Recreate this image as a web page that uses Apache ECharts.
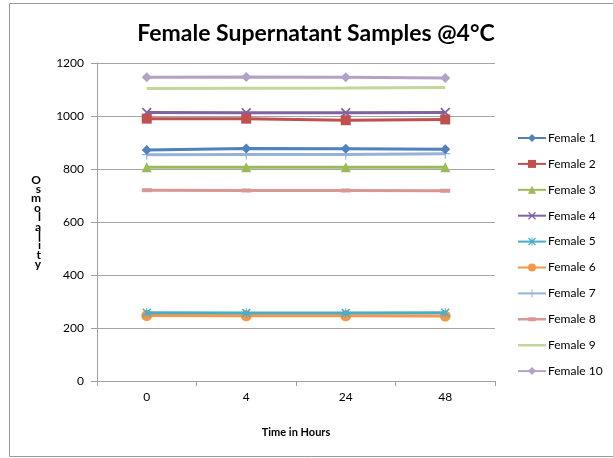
<!DOCTYPE html>
<html>
<head>
<meta charset="utf-8">
<script src="https://cdn.jsdelivr.net/npm/echarts@6/dist/echarts.min.js"></script>
<style>
html,body{margin:0;padding:0;background:#fff;}
#c{width:613px;height:458px;}
</style>
</head>
<body>
<div id="c"></div>
<script>
var hours = ['0', '4', '24', '48'];
var yTicks = { min: 0, max: 1200, step: 200 };
var seriesNames = ['Female 1','Female 2','Female 3','Female 4','Female 5','Female 6','Female 7','Female 8','Female 9','Female 10'];
var female1  = [872, 877, 876, 875];
var female2  = [990, 990, 984, 987];
var female3  = [807, 807, 807, 807];
var female4  = [1013, 1012, 1012, 1013];
var female5  = [258, 257, 257, 258];
var female6  = [247, 246, 246, 245];
var female7  = [854, 855, 855, 858];
var female8  = [720, 719, 719, 718];
var female9  = [1104, 1105, 1106, 1108];
var female10 = [1146, 1147, 1146, 1143];

var seriesData = [female1, female2, female3, female4, female5, female6, female7, female8, female9, female10];
var colors = ['#4F81BD','#C0504D','#9BBB59','#8064A2','#4BACC6','#F79646','#95B3D7','#DA9694','#C3D69B','#B3A2C7'];
var X = 'path://M0,1.2L1.2,0L10,8.8L8.8,10Z M8.8,0L10,1.2L1.2,10L0,8.8Z';
var STAR = 'path://M0,1.2L1.2,0L10,8.8L8.8,10Z M8.8,0L10,1.2L1.2,10L0,8.8Z M4.4,0H5.6V10H4.4Z';
var PLUS = 'path://M4.4,0H5.6V10H4.4Z M0,4.4H10V5.6H0Z';
var DASH = 'path://M0,0H10V4H0Z';
var symbols = ['diamond','rect','triangle',X,STAR,'circle',PLUS,DASH,'none','diamond'];
var sizes = [10,10,10,10,9,11,10,[10,4],0,10];

var LINE_ICON = 'path://M0,0L0.01,0L0,0.01Z M30,10L29.99,10L30,9.99Z M0,3.6H30V6.4H0Z';
var DASH_ICON = 'path://M0,0L0.01,0L0,0.01Z M30,10L29.99,10L30,9.99Z M0,3.6H30V6.4H0Z M11,2.8H19V7.2H11Z';

var series = seriesNames.map(function(n, i){
  return {
    name: n,
    type: 'line',
    data: seriesData[i],
    symbol: symbols[i],
    symbolSize: sizes[i],
    showSymbol: symbols[i] !== 'none',
    lineStyle: { color: colors[i], width: 3 },
    itemStyle: { color: colors[i] },
    z: 10 - i
  };
});

var legendData = seriesNames.map(function(n, i){
  if (i === 8) return { name: n, icon: LINE_ICON };
  if (i === 7) return { name: n, icon: DASH_ICON };
  return { name: n };
});

var chart = echarts.init(document.getElementById('c'));
chart.setOption({
  animation: false,
  color: colors,
  graphic: [{
    type: 'rect', shape: { x: 9.5, y: 3.5, width: 612, height: 453 },
    style: { fill: 'none', stroke: '#9a9a9a', lineWidth: 1 }, silent: true
  }],
  title: {
    text: 'Female Supernatant Samples @4°C',
    left: 311, top: 17, textAlign: 'center',
    textStyle: { fontFamily: 'Lato', fontWeight: 'bold', fontSize: 23, color: '#000' }
  },
  legend: {
    orient: 'vertical',
    left: 517, top: 132, padding: 0,
    itemWidth: 28, itemHeight: 10, itemGap: 13.9,
    textStyle: { fontFamily: 'Lato', fontSize: 12, color: '#000', padding: [0,0,0,-3] },
    data: legendData
  },
  grid: { left: 97, right: 118, top: 63, bottom: 77, containLabel: false },
  xAxis: {
    type: 'category',
    data: hours,
    boundaryGap: true,
    name: 'Time in Hours',
    nameLocation: 'middle',
    nameGap: 46,
    nameTextStyle: { fontFamily: 'Lato', fontWeight: 'bold', fontSize: 11, color: '#000' },
    axisLine: { lineStyle: { color: '#a0a0a0', width: 1 } },
    axisTick: { show: true, length: 5, lineStyle: { color: '#a0a0a0' } },
    axisLabel: { fontFamily: 'Lato', fontSize: 12, color: '#000', margin: 10 },
    splitLine: { show: false }
  },
  yAxis: {
    type: 'value',
    min: yTicks.min, max: yTicks.max, interval: yTicks.step,
    name: 'O\ns\nm\no\nl\na\nl\ni\nt\ny',
    nameLocation: 'middle',
    nameRotate: 0,
    nameGap: 56,
    nameTextStyle: { fontFamily: 'Lato', fontWeight: 'bold', fontSize: 12, color: '#000', lineHeight: 9.4 },
    axisLine: { show: true, lineStyle: { color: '#a0a0a0', width: 1 } },
    axisTick: { show: true, length: 6, lineStyle: { color: '#a0a0a0' } },
    axisLabel: { fontFamily: 'Lato', fontSize: 12, color: '#000', margin: 13, formatter: function(v){ return String(v); } },
    splitLine: { show: true, lineStyle: { color: '#a6a6a6', width: 1 } }
  },
  series: series
});
</script>
</body>
</html>
